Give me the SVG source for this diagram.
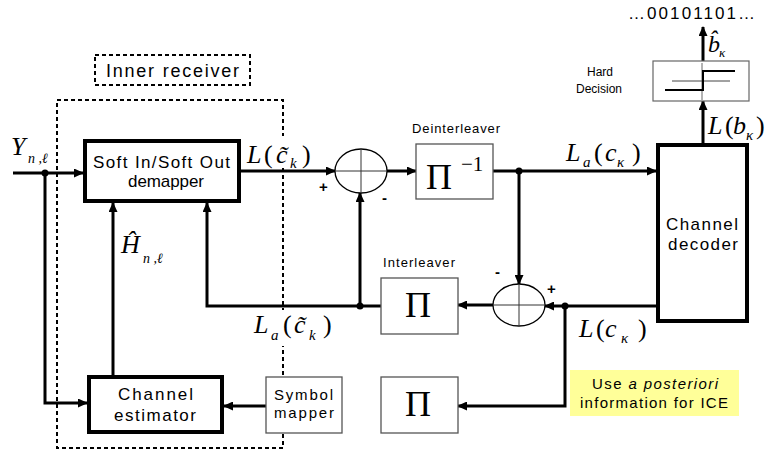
<svg xmlns="http://www.w3.org/2000/svg" width="765" height="453" viewBox="0 0 765 453">
<style>
.lbl{font-family:"Liberation Sans",Arial,sans-serif;fill:#000}
.m{font-family:"Liberation Serif","DejaVu Serif",serif;font-style:italic;fill:#000}
.mu{font-family:"Liberation Serif","DejaVu Serif",serif;fill:#000}
.thick{fill:#fff;stroke:#000;stroke-width:4}
.thin{fill:#fff;stroke:#555;stroke-width:1.3}
.con{fill:none;stroke:#000;stroke-width:3}
.dash{fill:none;stroke:#000;stroke-width:2;stroke-dasharray:4,3}
.sum{fill:#fff;stroke:#000;stroke-width:1.3}
.cross{stroke:#333;stroke-width:1}
</style>
<defs>
<marker id="ah" markerUnits="userSpaceOnUse" markerWidth="10" markerHeight="9" refX="9" refY="4.5" orient="auto">
<path d="M0,0 L10,4.5 L0,9 z" fill="#000"/>
</marker>
</defs>

<g id="inner-receiver">
<rect x="57" y="100" width="226" height="348" class="dash"/>
<rect x="95" y="55" width="155" height="30" class="dash"/>
<text x="106" y="77" class="lbl" font-size="18" textLength="133">Inner receiver</text>
</g>

<g id="connectors">
<path d="M13,173 H83" class="con" marker-end="url(#ah)"/>
<path d="M45,173 V403 H87" class="con" marker-end="url(#ah)"/>
<path d="M113,375 V203" class="con" marker-end="url(#ah)"/>
<path d="M381,306 H207 V203" class="con" marker-end="url(#ah)"/>
<path d="M360,306 V193" class="con" marker-end="url(#ah)"/>
<path d="M241,171 H335" class="con" marker-end="url(#ah)"/>
<path d="M387,171 H416" class="con" stroke-width="2.5" marker-end="url(#ah)"/>
<path d="M493,171 H656" class="con" marker-end="url(#ah)"/>
<path d="M519,171 V284" class="con" marker-end="url(#ah)"/>
<path d="M656,306 H545" class="con" marker-end="url(#ah)"/>
<path d="M493,305 H458" class="con" marker-end="url(#ah)"/>
<path d="M565,306 V406 H458" class="con" marker-end="url(#ah)"/>
<path d="M266,406 H224" class="con" marker-end="url(#ah)"/>
<path d="M703,143 V101" class="con" marker-end="url(#ah)"/>
<path d="M703,61 V27" class="con" marker-end="url(#ah)"/>
<circle cx="45" cy="173" r="3.5"/>
<circle cx="360" cy="306" r="3.5"/>
<circle cx="519" cy="171" r="3.5"/>
<circle cx="565" cy="306" r="3.5"/>
</g>

<g id="demapper">
<rect x="85" y="141" width="154" height="60" class="thick"/>
<text x="93" y="168" class="lbl" font-size="17" textLength="137">Soft In/Soft Out</text>
<text x="128" y="187" class="lbl" font-size="17" textLength="76">demapper</text>
</g>

<g id="channel-estimator">
<rect x="89" y="377" width="133" height="55" class="thick"/>
<text x="118" y="400" class="lbl" font-size="17" textLength="75">Channel</text>
<text x="114" y="421" class="lbl" font-size="17" textLength="82">estimator</text>
</g>

<g id="symbol-mapper">
<rect x="266" y="377" width="76" height="56" class="thin"/>
<text x="274" y="400" class="lbl" font-size="15" textLength="59">Symbol</text>
<text x="274" y="418" class="lbl" font-size="15" textLength="60">mapper</text>
</g>

<g id="sum-upper">
<ellipse cx="361" cy="171" rx="26" ry="22" class="sum"/>
<line x1="335" y1="171" x2="387" y2="171" class="cross"/>
<line x1="361" y1="149" x2="361" y2="193" class="cross"/>
<text x="319" y="192" class="lbl" font-size="15" font-weight="bold">+</text>
<text x="382" y="203" class="lbl" font-size="15" font-weight="bold">-</text>
</g>

<g id="deinterleaver">
<rect x="416" y="144" width="77" height="55" class="thin"/>
<text x="412" y="133" class="lbl" font-size="13" textLength="88">Deinterleaver</text>
<text x="426" y="189" class="mu" font-size="36">Π</text>
<text x="461" y="171" class="mu" font-size="21">−1</text>
</g>

<g id="interleaver">
<rect x="381" y="278" width="77" height="56" class="thin"/>
<text x="383" y="267" class="lbl" font-size="13" textLength="72">Interleaver</text>
<text x="405" y="317" class="mu" font-size="36">Π</text>
</g>

<g id="interleaver-2">
<rect x="381" y="377" width="77" height="56" class="thin"/>
<text x="405" y="416" class="mu" font-size="36">Π</text>
</g>

<g id="sum-lower">
<ellipse cx="519" cy="305" rx="26" ry="21" class="sum"/>
<line x1="493" y1="305" x2="545" y2="305" class="cross"/>
<line x1="519" y1="284" x2="519" y2="326" class="cross"/>
<text x="495" y="277" class="lbl" font-size="15" font-weight="bold">-</text>
<text x="547" y="294" class="lbl" font-size="15" font-weight="bold">+</text>
</g>

<g id="channel-decoder">
<rect x="658" y="145" width="89" height="176" class="thick"/>
<text x="666" y="230" class="lbl" font-size="17" textLength="72">Channel</text>
<text x="668" y="250" class="lbl" font-size="17" textLength="70">decoder</text>
</g>

<g id="hard-decision">
<rect x="653" y="61" width="96" height="40" fill="#fff" stroke="#666" stroke-width="1.2"/>
<line x1="702" y1="63" x2="702" y2="100" stroke="#666" stroke-width="1"/>
<line x1="672" y1="81" x2="730" y2="81" stroke="#444" stroke-width="1"/>
<path d="M665,90 H703 V71 H735" fill="none" stroke="#000" stroke-width="2"/>
<text x="587" y="76" class="lbl" font-size="12">Hard</text>
<text x="576" y="93" class="lbl" font-size="12">Decision</text>
</g>

<g id="output-bits">
<text x="628" y="19" class="lbl" font-size="17" textLength="127">…00101101…</text>
<text x="708" y="52" class="m" font-size="24">b&#x302;</text>
<text x="719" y="57" class="m" font-size="13">κ</text>
</g>

<g id="labels">
<rect x="246" y="136" width="68" height="32" fill="#fff"/>
<rect x="252" y="310" width="84" height="36" fill="#fff"/>
<text x="11" y="155" class="m" font-size="26">Y</text>
<text x="28" y="163" class="m" font-size="14">n ,ℓ</text>

<text x="247" y="163" class="m" font-size="26">L</text>
<text x="264" y="163" class="mu" font-size="26">(</text>
<text x="276" y="163" class="m" font-size="26">c&#x303;</text>
<text x="290" y="168" class="m" font-size="15">k</text>
<text x="302" y="163" class="mu" font-size="26">)</text>

<text x="254" y="333" class="m" font-size="26">L</text>
<text x="271" y="340" class="m" font-size="15">a</text>
<text x="283" y="333" class="mu" font-size="26">(</text>
<text x="294" y="333" class="m" font-size="26">c&#x303;</text>
<text x="309" y="340" class="m" font-size="15">k</text>
<text x="323" y="333" class="mu" font-size="26">)</text>

<text x="566" y="161" class="m" font-size="26">L</text>
<text x="583" y="167" class="m" font-size="15">a</text>
<text x="594" y="161" class="mu" font-size="26">(</text>
<text x="605" y="161" class="m" font-size="26">c</text>
<text x="617" y="167" class="m" font-size="15">κ</text>
<text x="632" y="161" class="mu" font-size="26">)</text>

<text x="579" y="337" class="m" font-size="26">L</text>
<text x="596" y="337" class="mu" font-size="26">(</text>
<text x="605" y="337" class="m" font-size="26">c</text>
<text x="621" y="343" class="m" font-size="15">κ</text>
<text x="638" y="337" class="mu" font-size="26">)</text>

<text x="708" y="134" class="m" font-size="26">L</text>
<text x="725" y="134" class="mu" font-size="26">(</text>
<text x="733" y="134" class="m" font-size="26">b</text>
<text x="746" y="140" class="m" font-size="15">κ</text>
<text x="756" y="134" class="mu" font-size="26">)</text>

<text x="121" y="253" class="m" font-size="26">H&#x302;</text>
<text x="143" y="263" class="m" font-size="14">n ,ℓ</text>
</g>

<g id="note">
<rect x="570" y="370" width="169" height="46" fill="#ffff99"/>
<text x="592" y="389" class="lbl" font-size="15" textLength="126">Use <tspan font-style="italic">a posteriori</tspan></text>
<text x="580" y="408" class="lbl" font-size="15" textLength="148">information for ICE</text>
</g>
</svg>
